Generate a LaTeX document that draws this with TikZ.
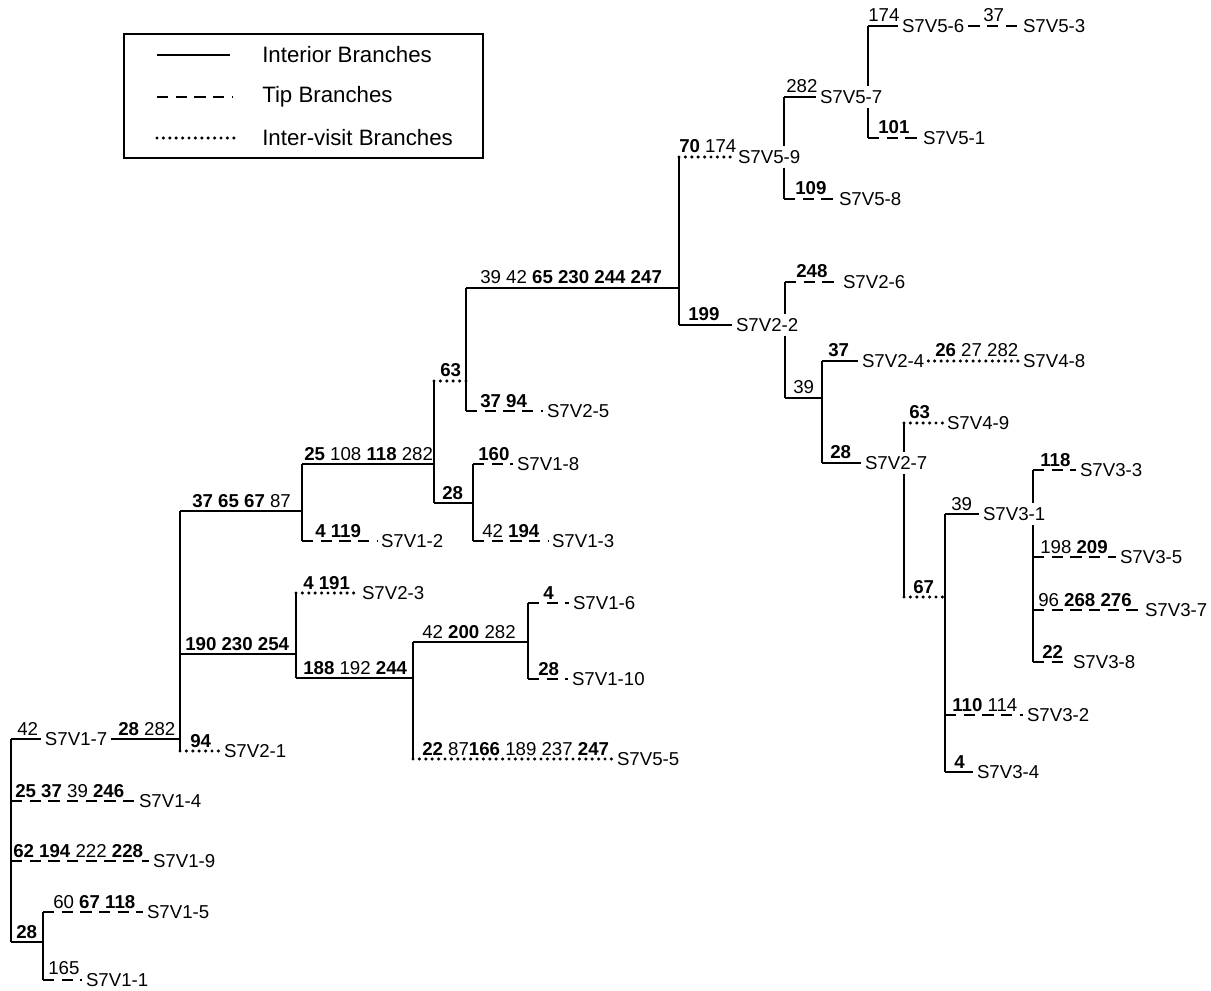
\documentclass[tikz,border=0pt]{standalone}
\usepackage{fontspec}
\setmainfont{Liberation Sans}
\newcommand\nb[1]{\textbf{#1}}
\begin{document}
\begin{tikzpicture}[x=0.75pt,y=-0.75pt,
  inb/.style={line width=1.7pt},
  tipb/.style={line width=1.2pt, dash pattern=on 8.5pt off 5.5pt},
  visb/.style={line width=2.6pt, line cap=round, dash pattern=on 0pt off 4.8pt},
  lab/.style={inner sep=0pt, outer sep=3pt, font=\fontsize{14}{16}\selectfont, anchor=west},
  num/.style={inner sep=0pt, font=\fontsize{14}{16}\selectfont, anchor=base west},
  leg/.style={inner sep=0pt, font=\fontsize{16.7}{19}\selectfont, anchor=west}]
\useasboundingbox (0,0) rectangle (1211,991);

% ---------- legend ----------
\node[draw, line width=1.2pt, minimum width=359*0.75pt, minimum height=124*0.75pt, anchor=north west, inner sep=0pt] (legbox) at (123,33) {};
\coordinate (l1a) at (157,55); \coordinate (l1b) at (230,55);
\coordinate (l2a) at (157,97); \coordinate (l2b) at (232,97);
\coordinate (l3a) at (157,138); \coordinate (l3b) at (235,138);
\draw[line width=1.2pt] (l1a) -- (l1b);
\draw[tipb] (l2a) -- (l2b);
\draw[visb] (l3a) -- (l3b);
\node[leg] (lt1) at (262,55) {Interior Branches};
\node[leg] (lt2) at (262,97) {Tip Branches};
\node[leg] (lt3) at (262,138) {Inter-visit Branches};

% ---------- tip / sampled labels ----------
\node[lab] (s17)  at (41,739)  {S7V1-7};
\node[lab] (s21)  at (220,751) {S7V2-1};
\node[lab] (s14)  at (135,801) {S7V1-4};
\node[lab] (s19)  at (149,861) {S7V1-9};
\node[lab] (s15)  at (143,912) {S7V1-5};
\node[lab] (s11)  at (82,980)  {S7V1-1};
\node[lab] (s12)  at (377,541) {S7V1-2};
\node[lab] (s25)  at (543,411) {S7V2-5};
\node[lab] (s18)  at (513,464) {S7V1-8};
\node[lab] (s13)  at (548,541) {S7V1-3};
\node[lab] (s23)  at (358,593) {S7V2-3};
\node[lab] (s16)  at (569,603) {S7V1-6};
\node[lab] (s110) at (568,679) {S7V1-10};
\node[lab] (s55)  at (613,759) {S7V5-5};
\node[lab] (s59)  at (734,157) {S7V5-9};
\node[lab] (s57)  at (816,97)  {S7V5-7};
\node[lab] (s56)  at (898,26)  {S7V5-6};
\node[lab] (s53)  at (1019,26) {S7V5-3};
\node[lab] (s51)  at (919,138) {S7V5-1};
\node[lab] (s58)  at (835,199) {S7V5-8};
\node[lab] (s22)  at (732,325) {S7V2-2};
\node[lab] (s26)  at (839,282) {S7V2-6};
\node[lab] (s24)  at (858,361) {S7V2-4};
\node[lab] (s48)  at (1019,361) {S7V4-8};
\node[lab] (s27)  at (861,463) {S7V2-7};
\node[lab] (s49)  at (943,423) {S7V4-9};
\node[lab] (s31)  at (979,514) {S7V3-1};
\node[lab] (s33)  at (1076,470) {S7V3-3};
\node[lab] (s35)  at (1116,557) {S7V3-5};
\node[lab] (s37)  at (1141,610) {S7V3-7};
\node[lab] (s38)  at (1069,662) {S7V3-8};
\node[lab] (s32)  at (1023,715) {S7V3-2};
\node[lab] (s34)  at (973,772) {S7V3-4};

% ---------- junction coordinates ----------
\coordinate (r0) at (11,739);  \coordinate (r1) at (11,942);
\coordinate (q0) at (43,912);  \coordinate (q1) at (43,980);
\coordinate (a0) at (180,511); \coordinate (a1) at (180,751);
\coordinate (b0) at (302,464); \coordinate (b1) at (302,541);
\coordinate (c0) at (434,381); \coordinate (c1) at (434,503);
\coordinate (d0) at (466,288); \coordinate (d1) at (466,411);
\coordinate (e0) at (473,464); \coordinate (e1) at (473,541);
\coordinate (f0) at (296,593); \coordinate (f1) at (296,678);
\coordinate (g0) at (413,642); \coordinate (g1) at (413,759);
\coordinate (h0) at (528,603); \coordinate (h1) at (528,679);
\coordinate (i0) at (679,157); \coordinate (i1) at (679,325);
\coordinate (j0) at (784,97);  \coordinate (j1) at (784,199);
\coordinate (k0) at (868,26);  \coordinate (k1) at (868,138);
\coordinate (l0) at (785,282); \coordinate (l1) at (785,398);
\coordinate (m0) at (822,361); \coordinate (m1) at (822,463);
\coordinate (n0) at (904,423); \coordinate (n1) at (904,597);
\coordinate (o0) at (945,514); \coordinate (o1) at (945,772);
\coordinate (p0) at (1033,470); \coordinate (p1) at (1033,662);

% ---------- root ----------
\draw[inb] (r0) -- (r1);
\draw[inb] (r0) -- (s17.west);
\draw[inb] (s17.east) -- (s17.east -| a0);
\draw[tipb] (r0 |- s14) -- (s14.west);
\draw[tipb] (r0 |- s19) -- (s19.west);
\draw[inb] (r1) -- (r1 -| q0);
\draw[inb] (q0) -- (q1);
\draw[tipb] (q0) -- (s15.west);
\draw[tipb] (q1) -- (s11.west);

% ---------- a ----------
\draw[inb] (a0) -- (a1);
\draw[inb] (a0) -- (b0 |- a0);
\draw[inb] (a0 |- 0,654) -- (f0 |- 0,654);
\draw[visb] (a1) -- (s21.west);

% ---------- b ----------
\draw[inb] (b0) -- (b1);
\draw[inb] (b0) -- (c0 |- b0);
\draw[tipb] (b1) -- (s12.west);

% ---------- c ----------
\draw[inb] (c0) -- (c1);
\draw[visb] (c0) -- (d0 |- c0);
\draw[inb] (c1) -- (e0 |- c1);

% ---------- d ----------
\draw[inb] (d0) -- (d1);
\draw[inb] (d0) -- (i0 |- d0);
\draw[tipb] (d1) -- (s25.west);

% ---------- e ----------
\draw[inb] (e0) -- (e1);
\draw[tipb] (e0) -- (s18.west);
\draw[tipb] (e1) -- (s13.west);

% ---------- f ----------
\draw[inb] (f0) -- (f1);
\draw[visb] (f0) -- (s23.west);
\draw[inb] (f1) -- (g0 |- f1);

% ---------- g ----------
\draw[inb] (g0) -- (g1);
\draw[inb] (g0) -- (h0 |- g0);
\draw[visb] (g1) -- (s55.west);

% ---------- h ----------
\draw[inb] (h0) -- (h1);
\draw[tipb] (h0) -- (s16.west);
\draw[tipb] (h1) -- (s110.west);

% ---------- i ----------
\draw[inb] (i0) -- (i1);
\draw[visb] (i0) -- (s59.west);
\draw[inb] (i1) -- (s22.west);

% ---------- j (S7V5-9) ----------
\draw[inb] (j0) -- (j0 |- s59.north);
\draw[inb] (j1 |- s59.south) -- (j1);
\draw[inb] (j0) -- (s57.west);
\draw[tipb] (j1) -- (s58.west);

% ---------- k (S7V5-7) ----------
\draw[inb] (k0) -- (k0 |- s57.north);
\draw[inb] (k1 |- s57.south) -- (k1);
\draw[inb] (k0) -- (s56.west);
\draw[tipb] (s56.east) -- (s53.west);
\draw[tipb] (k1) -- (s51.west);

% ---------- l (S7V2-2) ----------
\draw[inb] (l0) -- (l0 |- s22.north);
\draw[inb] (l1 |- s22.south) -- (l1);
\draw[tipb] (l0) -- (s26.west);
\draw[inb] (l1) -- (m0 |- l1);

% ---------- m ----------
\draw[inb] (m0) -- (m1);
\draw[inb] (m0) -- (s24.west);
\draw[visb] (s24.east) -- (s48.west);
\draw[inb] (m1) -- (s27.west);

% ---------- n (S7V2-7) ----------
\draw[inb] (n0) -- (n0 |- s27.north);
\draw[inb] (n1 |- s27.south) -- (n1);
\draw[visb] (n0) -- (s49.west);
\draw[visb] (n1) -- (o0 |- n1);

% ---------- o ----------
\draw[inb] (o0) -- (o1);
\draw[inb] (o0) -- (s31.west);
\draw[tipb] (o0 |- s32) -- (s32.west);
\draw[inb] (o1) -- (s34.west);

% ---------- p (S7V3-1) ----------
\draw[inb] (p0) -- (p0 |- s31.north);
\draw[inb] (p1 |- s31.south) -- (p1);
\draw[tipb] (p0) -- (s33.west);
\draw[tipb] (p0 |- s35) -- (s35.west);
\draw[tipb] (p0 |- s37) -- (s37.west);
\draw[tipb] (p1) -- (s38.west);

% ---------- branch labels ----------
\node[num] (t01) at (17,735)  {42};
\node[num] (t02) at (118,735) {\nb{28} 282};
\node[num] (t03) at (15,797)  {\nb{25} \nb{37} 39 \nb{246}};
\node[num] (t04) at (13,857)  {\nb{62} \nb{194} 222 \nb{228}};
\node[num] (t05) at (16,938)  {\nb{28}};
\node[num] (t06) at (53,908)  {60 \nb{67} \nb{118}};
\node[num] (t07) at (48,974)  {165};
\node[num] (t08) at (192,507) {\nb{37} \nb{65} \nb{67} 87};
\node[num] (t09) at (185,650) {\nb{190 230 254}};
\node[num] (t10) at (190,747) {\nb{94}};
\node[num] (t11) at (304,460) {\nb{25} 108 \nb{118} 282};
\node[num] (t12) at (315,537) {\nb{4 119}};
\node[num] (t13) at (440,377) {\nb{63}};
\node[num] (t14) at (442,499) {\nb{28}};
\node[num] (t15) at (480,284) {39 42 \nb{65 230 244 247}};
\node[num] (t16) at (480,407) {\nb{37 94}};
\node[num] (t17) at (478,460) {\nb{160}};
\node[num] (t18) at (482,537) {42 \nb{194}};
\node[num] (t19) at (303,589) {\nb{4 191}};
\node[num] (t20) at (303,674) {\nb{188} 192 \nb{244}};
\node[num] (t21) at (422,638) {42 \nb{200} 282};
\node[num] (t22) at (422,755) {\nb{22} 87\nb{166} 189 237 \nb{247}};
\node[num] (t23) at (543,599) {\nb{4}};
\node[num] (t24) at (538,675) {\nb{28}};
\node[num] (t25) at (679,153) {\nb{70} 174};
\node[num] (t26) at (688,321) {\nb{199}};
\node[num] (t27) at (786,93)  {282};
\node[num] (t28) at (868,22)  {174};
\node[num] (t29) at (983,22)  {37};
\node[num] (t30) at (878,134) {\nb{101}};
\node[num] (t31) at (795,195) {\nb{109}};
\node[num] (t32) at (796,278) {\nb{248}};
\node[num] (t33) at (793,394) {39};
\node[num] (t34) at (828,357) {\nb{37}};
\node[num] (t35) at (935,357) {\nb{26} 27 282};
\node[num] (t36) at (830,459) {\nb{28}};
\node[num] (t37) at (909,419) {\nb{63}};
\node[num] (t38) at (913,593) {\nb{67}};
\node[num] (t39) at (951,510) {39};
\node[num] (t40) at (1040,466) {\nb{118}};
\node[num] (t41) at (1040,553) {198 \nb{209}};
\node[num] (t42) at (1038,606) {96 \nb{268} \nb{276}};
\node[num] (t43) at (1042,658) {\nb{22}};
\node[num] (t44) at (952,711) {\nb{110} 114};
\node[num] (t45) at (954,768) {\nb{4}};
\end{tikzpicture}
\end{document}
